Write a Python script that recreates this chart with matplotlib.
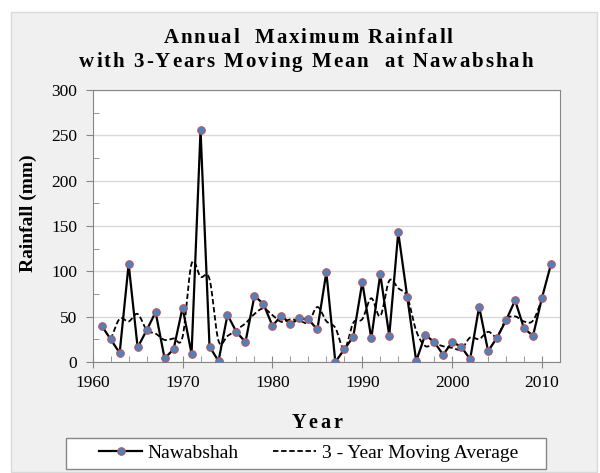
import numpy as np
import pandas as pd
import matplotlib
matplotlib.use("Agg")
import matplotlib.pyplot as plt
from matplotlib.patches import Rectangle
from matplotlib.ticker import MultipleLocator
from matplotlib.ft2font import FT2Font
from matplotlib.font_manager import findfont, FontProperties

# annual maximum rainfall at Nawabshah (mm)
years = list(range(1961, 2012))
rainfall = [40, 25, 10, 108, 16, 35, 55, 4, 14, 60,
            9, 256, 17, 1, 52, 33, 22, 73, 64, 40,
            51, 42, 48, 47, 36, 99, 0, 14, 28, 88,
            26, 97, 29, 143, 72, 1, 30, 22, 8, 22,
            17, 3, 61, 12, 27, 46, 68, 37, 29, 71, 108]

series_names = ["Nawabshah", "3 - Year Moving Average"]

# centred 3-year moving mean of the series above
ma = pd.Series(rainfall, index=years).rolling(3, center=True).mean().dropna()

W, H = 600, 473


def smooth(x, y, n=12):
    # catmull-rom curve through the points, like excel's "smoothed line"
    x = np.asarray(x, float)
    y = np.asarray(y, float)
    px = np.concatenate([[2 * x[0] - x[1]], x, [2 * x[-1] - x[-2]]])
    py = np.concatenate([[2 * y[0] - y[1]], y, [2 * y[-1] - y[-2]]])
    xs, ys = [], []
    t = np.linspace(0, 1, n, endpoint=False)
    for i in range(1, len(px) - 2):
        for p, out in ((px, xs), (py, ys)):
            p0, p1, p2, p3 = p[i - 1], p[i], p[i + 1], p[i + 2]
            out.extend(0.5 * (2 * p1 + (-p0 + p2) * t
                              + (2 * p0 - 5 * p1 + 4 * p2 - p3) * t ** 2
                              + (-p0 + 3 * p1 - 3 * p2 + p3) * t ** 3))
    xs.append(x[-1])
    ys.append(y[-1])
    return xs, ys


def spaced_text(fig, s, cx, base_y, size, spacing):
    # draw bold text with extra letter spacing (pixels), centred on cx
    fp = FontProperties(family='Liberation Serif', weight='bold', size=size)
    font = FT2Font(findfont(fp))
    font.set_size(size, 100)
    adv = [font.load_char(ord(c)).linearHoriAdvance / 65536 for c in s]
    x = cx - (sum(adv) + spacing * (len(s) - 1)) / 2
    for c, a in zip(s, adv):
        if c != ' ':
            fig.text(x / W, 1 - base_y / H, c, fontproperties=fp,
                     ha='left', va='baseline')
        x += a + spacing


plt.rcParams['font.family'] = ['Liberation Serif', 'DejaVu Serif']

fig = plt.figure(figsize=(W / 100, H / 100), dpi=100)
fig.patch.set_facecolor('white')
fig.patches.append(Rectangle((11 / W, 1 / H), 586 / W, 460 / H,
                             transform=fig.transFigure, facecolor='#f0f0f0',
                             edgecolor='#d9d9d9', lw=1, zorder=-10))

ax = fig.add_axes([92.7 / W, 1 - 362 / H, (560 - 92.7) / W, 272 / H])
ax.set_facecolor('white')

sx, sy = smooth(ma.index, ma.values)
l2, = ax.plot(sx, sy, color='black', ls=(0, (3, 1.5)), lw=1.3, zorder=2)
l1, = ax.plot(years, rainfall, color='black', lw=1.6, marker='o', ms=5.5,
              mfc='#4f81bd', mec='#c0504d', mew=0.7, zorder=3)

ax.set_xlim(1960, 2012)
ax.set_ylim(0, 300)
ax.xaxis.set_major_locator(MultipleLocator(10))
ax.xaxis.set_minor_locator(MultipleLocator(2))
ax.yaxis.set_major_locator(MultipleLocator(50))
ax.yaxis.set_minor_locator(MultipleLocator(25))
ax.grid(axis='y', color='#d9d9d9', lw=1)
ax.set_axisbelow(True)
for s in ax.spines.values():
    s.set_color('#868686')
ax.tick_params(axis='both', which='major', color='#868686', labelsize=12.5)
ax.tick_params(axis='x', which='major', direction='inout', length=8, pad=5)
ax.tick_params(axis='y', which='major', direction='out', length=5, pad=6)
ax.tick_params(axis='both', which='minor', direction='in', length=4, color='#868686')

fig.text(28 / W, 1 - 213 / H, 'Rainfall (mm)', rotation=90, ha='center',
         va='center', fontsize=14, fontweight='bold')
spaced_text(fig, 'Year', 317, 428, 14.5, 3)

spaced_text(fig, 'Annual  Maximum Rainfall', 308, 43.3, 15, 1.85)
spaced_text(fig, 'with 3-Years Moving Mean  at Nawabshah', 306, 67.3, 15, 1.95)

# legend: frame drawn separately so the side padding can be wider than the top
fig.patches.append(Rectangle((66 / W, 1 - 468.7 / H), 479.7 / W, 30.7 / H,
                             transform=fig.transFigure, facecolor='white',
                             edgecolor='#868686', lw=1, zorder=-5))
fig.legend([l1, l2], series_names, loc='center', ncol=2,
           bbox_to_anchor=(308.5 / W, 1 - 453.4 / H), fontsize=14,
           frameon=False, handlelength=2.2, columnspacing=1.75,
           handletextpad=0.3, borderpad=0)

fig.savefig('out.png', dpi=100, facecolor=fig.get_facecolor())
